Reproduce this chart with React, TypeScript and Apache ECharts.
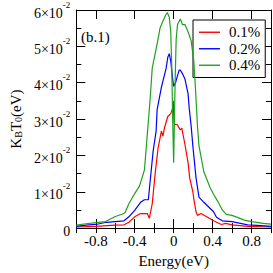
import React, { useEffect, useRef } from "react";
import * as echarts from "echarts";

// Energy (eV) and K_B T_0 values (units of 10^-2 eV)
const energy01 = [-1, -0.8, -0.6, -0.51, -0.46, -0.4, -0.34, -0.27, -0.25, -0.22, -0.19, -0.16, -0.126, -0.11, -0.094, -0.06, -0.03, -0.01, -0.004, 0.004, 0.013, 0.036, 0.068, 0.084, 0.116, 0.148, 0.165, 0.197, 0.21, 0.23, 0.245, 0.28, 0.34, 0.41, 0.49, 0.535, 0.6, 0.76, 1.0];
const values01 = [0.03, 0.05, 0.08, 0.09, 0.16, 0.31, 0.4, 0.4, 0.27, 0.67, 1.5, 2.2, 2.67, 2.53, 2.76, 3.07, 3.15, 3.3, 3.5, 2.9, 2.85, 2.85, 2.7, 2.75, 2.3, 1.8, 1.38, 1.0, 0.75, 0.45, 0.35, 0.4, 0.31, 0.2, 0.1, 0.13, 0.09, 0.05, 0.03];

const energy02 = [-1, -0.9, -0.8, -0.69, -0.6, -0.51, -0.46, -0.4, -0.34, -0.3, -0.26, -0.24, -0.21, -0.18, -0.17, -0.126, -0.077, -0.06, -0.045, -0.03, -0.01, 0.0, 0.02, 0.04, 0.058, 0.068, 0.09, 0.116, 0.148, 0.16, 0.18, 0.197, 0.23, 0.26, 0.31, 0.36, 0.41, 0.44, 0.5, 0.6, 0.76, 0.9, 1.0];
const values02 = [0.05, 0.08, 0.1, 0.16, 0.18, 0.2, 0.31, 0.49, 0.71, 0.78, 0.78, 1.33, 2.13, 2.67, 3.25, 3.87, 4.4, 4.7, 4.8, 4.6, 4.1, 3.9, 4.0, 4.2, 4.35, 4.35, 4.25, 4.1, 3.7, 3.3, 2.8, 2.27, 1.38, 0.85, 0.71, 0.58, 0.45, 0.3, 0.2, 0.18, 0.09, 0.07, 0.05];

const energy04 = [-1, -0.9, -0.8, -0.7, -0.6, -0.53, -0.5, -0.46, -0.4, -0.35, -0.3, -0.27, -0.24, -0.22, -0.19, -0.16, -0.14, -0.11, -0.08, -0.065, -0.045, -0.03, -0.02, -0.01, 0.0, 0.005, 0.015, 0.026, 0.04, 0.068, 0.09, 0.116, 0.148, 0.18, 0.207, 0.225, 0.245, 0.26, 0.31, 0.375, 0.41, 0.45, 0.5, 0.54, 0.6, 0.726, 0.8, 0.92, 1.0];
const values04 = [0.08, 0.12, 0.15, 0.18, 0.32, 0.38, 0.42, 0.67, 0.95, 1.16, 1.6, 2.6, 3.6, 4.4, 4.8, 5.2, 5.5, 5.7, 5.87, 5.93, 5.8, 5.4, 4.5, 3.0, 1.8, 1.8, 4.0, 5.2, 5.6, 5.75, 5.6, 5.6, 5.4, 5.15, 4.6, 3.8, 2.8, 2.27, 1.55, 1.11, 0.93, 0.75, 0.5, 0.38, 0.35, 0.22, 0.18, 0.13, 0.11];

const seriesNames = ["0.1%", "0.2%", "0.4%"];
const seriesColors = ["#ff0000", "#0000ff", "#1fa01f"];
const majorX = [-0.8, -0.4, 0, 0.4, 0.8];
const panelLabel = "(b.1)";

const FONT = "'Liberation Serif', 'DejaVu Serif', serif";

function pairs(xs: number[], ys: number[]) {
  return xs.map((x, i) => [x, ys[i]]);
}

export default function App() {
  const ref = useRef<HTMLDivElement>(null);
  useEffect(() => {
    if (!ref.current) return;
    const chart = echarts.init(ref.current, null, { renderer: "svg" });
    const axisLine = { show: true, onZero: false, lineStyle: { color: "#000", width: 1 } };
    const xBase = { type: "value", min: -1, max: 1, interval: 0.2, splitLine: { show: false } };
    const datasets = [pairs(energy01, values01), pairs(energy02, values02), pairs(energy04, values04)];
    chart.setOption({
      animation: false,
      textStyle: { fontFamily: FONT },
      grid: { left: 64.5, right: 2, top: 10, bottom: 38, containLabel: false },
      legend: {
        orient: "vertical",
        left: 193,
        top: 20,
        padding: [4, 5, 4, 6],
        itemGap: 0,
        itemWidth: 21,
        itemHeight: 1.4,
        icon: "rect",
        backgroundColor: "#fff",
        borderColor: "#000",
        borderWidth: 1,
        borderRadius: 0,
        textStyle: { fontFamily: FONT, fontSize: 15, lineHeight: 16.5, color: "#000", padding: [0, 0, 0, 4] },
        data: seriesNames,
      },
      xAxis: [
        {
          ...xBase,
          position: "bottom",
          name: "Energy(eV)",
          nameLocation: "middle",
          nameGap: 21,
          nameTextStyle: { fontFamily: FONT, fontSize: 15, color: "#000" },
          axisLine,
          axisTick: { show: true, inside: true, length: 9, customValues: majorX, lineStyle: { color: "#000" } },
          axisLabel: { show: true, customValues: majorX, fontFamily: FONT, fontSize: 15, color: "#000", margin: 5, formatter: (v: number) => (v === 0 ? "0" : String(v)) },
        },
        {
          ...xBase,
          position: "bottom",
          axisLine: { show: false },
          axisTick: { show: true, inside: true, length: 5, lineStyle: { color: "#000" } },
          axisLabel: { show: false },
        },
        {
          ...xBase,
          position: "top",
          axisLine,
          axisTick: { show: true, inside: true, length: 9, customValues: majorX, lineStyle: { color: "#000" } },
          axisLabel: { show: false },
        },
        {
          ...xBase,
          position: "top",
          axisLine: { show: false },
          axisTick: { show: true, inside: true, length: 5, lineStyle: { color: "#000" } },
          axisLabel: { show: false },
        },
      ],
      yAxis: [
        {
          type: "value",
          min: 0,
          max: 6,
          interval: 1,
          position: "left",
          name: "{m|K}{s|B}{m|T}{s|0}{m|(eV)}",
          nameLocation: "middle",
          nameGap: 53,
          nameTextStyle: {
            fontFamily: FONT,
            color: "#000",
            rich: {
              m: { fontFamily: FONT, fontSize: 15, color: "#000", verticalAlign: "bottom", lineHeight: 22 },
              s: { fontFamily: FONT, fontSize: 10, color: "#000", verticalAlign: "bottom", lineHeight: 3 },
            },
          },
          splitLine: { show: false },
          axisLine,
          axisTick: { show: true, inside: true, length: 9, lineStyle: { color: "#000" } },
          minorTick: { show: true, splitNumber: 2, length: 5, lineStyle: { color: "#000" } },
          axisLabel: {
            show: true,
            margin: 6,
            formatter: (v: number) => (v === 0 ? "{b|0}" : `{b|${v}×10}{s|-2}`),
            rich: {
              b: { fontFamily: FONT, fontSize: 14, color: "#000", verticalAlign: "bottom", lineHeight: 20 },
              s: { fontFamily: FONT, fontSize: 9, color: "#000", verticalAlign: "top", lineHeight: 8 },
            },
          },
        },
        {
          type: "value",
          min: 0,
          max: 6,
          interval: 1,
          position: "right",
          splitLine: { show: false },
          axisLine,
          axisTick: { show: true, inside: true, length: 9, lineStyle: { color: "#000" } },
          minorTick: { show: true, splitNumber: 2, length: 5, lineStyle: { color: "#000" } },
          axisLabel: { show: false },
        },
      ],
      graphic: [
        {
          type: "text",
          left: 81,
          top: 29,
          style: { text: panelLabel, fontFamily: FONT, fontSize: 15, fill: "#000" },
        },
      ],
      series: seriesNames.map((name, i) => ({
        name,
        type: "line",
        xAxisIndex: 0,
        yAxisIndex: 0,
        data: datasets[i],
        symbol: "none",
        showSymbol: false,
        lineStyle: { color: seriesColors[i], width: 1.2 },
        itemStyle: { color: seriesColors[i] },
        z: 2 + i,
      })),
    });
    return () => chart.dispose();
  }, []);
  return <div ref={ref} style={{ position: "absolute", left: 0, top: 0, width: 273, height: 273 }} />;
}
